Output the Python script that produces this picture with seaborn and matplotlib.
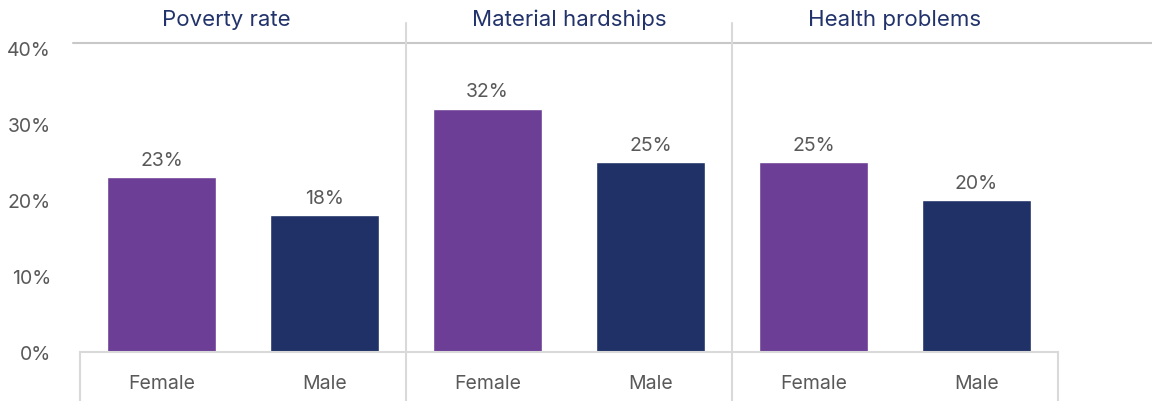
import matplotlib
matplotlib.use("Agg")
import matplotlib.pyplot as plt
import seaborn as sns
import pandas as pd

# Data
groups = ["Poverty rate", "Material hardships", "Health problems"]
sexes = ["Female", "Male"]
female_values = [23, 32, 25]
male_values = [18, 25, 20]
y_ticks = [0, 10, 20, 30, 40]

PURPLE = "#6C3E96"
NAVY = "#1F3166"
TEXT_GRAY = "#595959"
LINE_GRAY = "#D9D9D9"

rows = []
for g, f, m in zip(groups, female_values, male_values):
    rows.append({"slot": f"{g} | Female", "Group": g, "Sex": "Female", "Value": f})
    rows.append({"slot": f"{g} | Male", "Group": g, "Sex": "Male", "Value": m})
df = pd.DataFrame(rows)

sns.set_theme(style="white")
plt.rcParams["font.family"] = ["Inter", "DejaVu Sans"]

W, H = 1152, 402
fig = plt.figure(figsize=(W / 100, H / 100), dpi=100)
# axes spans 0% (y=353px) to 40% (y=49px), x from 80px to 1058px
ax = fig.add_axes([80 / W, (H - 353) / H, 978 / W, 304 / H])
ax_h = 304.0

sns.barplot(
    data=df, x="slot", y="Value", hue="Sex", order=list(df["slot"]),
    palette={"Female": PURPLE, "Male": NAVY}, dodge=False, width=0.667,
    legend=False, ax=ax, saturation=1,
)

ax.set_xlim(-0.5, 5.5)
ax.set_ylim(0, 40)
ax.set_xlabel("")
ax.set_ylabel("")
ax.set_xticks(range(len(df)))
ax.set_xticklabels(list(df["Sex"]), fontsize=14, color=TEXT_GRAY)
ax.set_yticks(y_ticks)
ax.set_yticklabels([f"{v}%" for v in y_ticks], fontsize=14, color=TEXT_GRAY)
ax.tick_params(axis="x", length=0, pad=16)
ax.tick_params(axis="y", length=0, pad=21)

for side in ["top", "right", "left"]:
    ax.spines[side].set_visible(False)
ax.spines["bottom"].set_color(LINE_GRAY)
ax.spines["bottom"].set_linewidth(1.5)

# Value labels above each bar
for cont in ax.containers:
    ax.bar_label(cont, labels=[f"{v:.0f}%" for v in cont.datavalues],
                 padding=6, fontsize=14, color=TEXT_GRAY)

# Header rule across the top
ax.plot([-7 / 978, 1072 / 978], [1 + 5 / ax_h] * 2, transform=ax.transAxes,
        color="#C8C8C8", lw=1.5, clip_on=False, zorder=0)

# Group separators and bottom label box
for xpos in [1.5, 3.5]:
    ax.axvline(xpos, ymin=-49 / ax_h, ymax=329 / ax_h, color=LINE_GRAY, lw=1.5,
               clip_on=False, zorder=0)
for xpos in [-0.5, 5.5]:
    ax.axvline(xpos, ymin=-49 / ax_h, ymax=0, color=LINE_GRAY, lw=1.5,
               clip_on=False, zorder=0)

# Group titles
title_x = [0.4, 2.5, 4.5]
for g, tx in zip(groups, title_x):
    ax.text(tx, 333 / ax_h, g, transform=ax.get_xaxis_transform(), ha="center",
            va="center", fontsize=16, color="#22336B")

fig.savefig("out.png", dpi=100)
